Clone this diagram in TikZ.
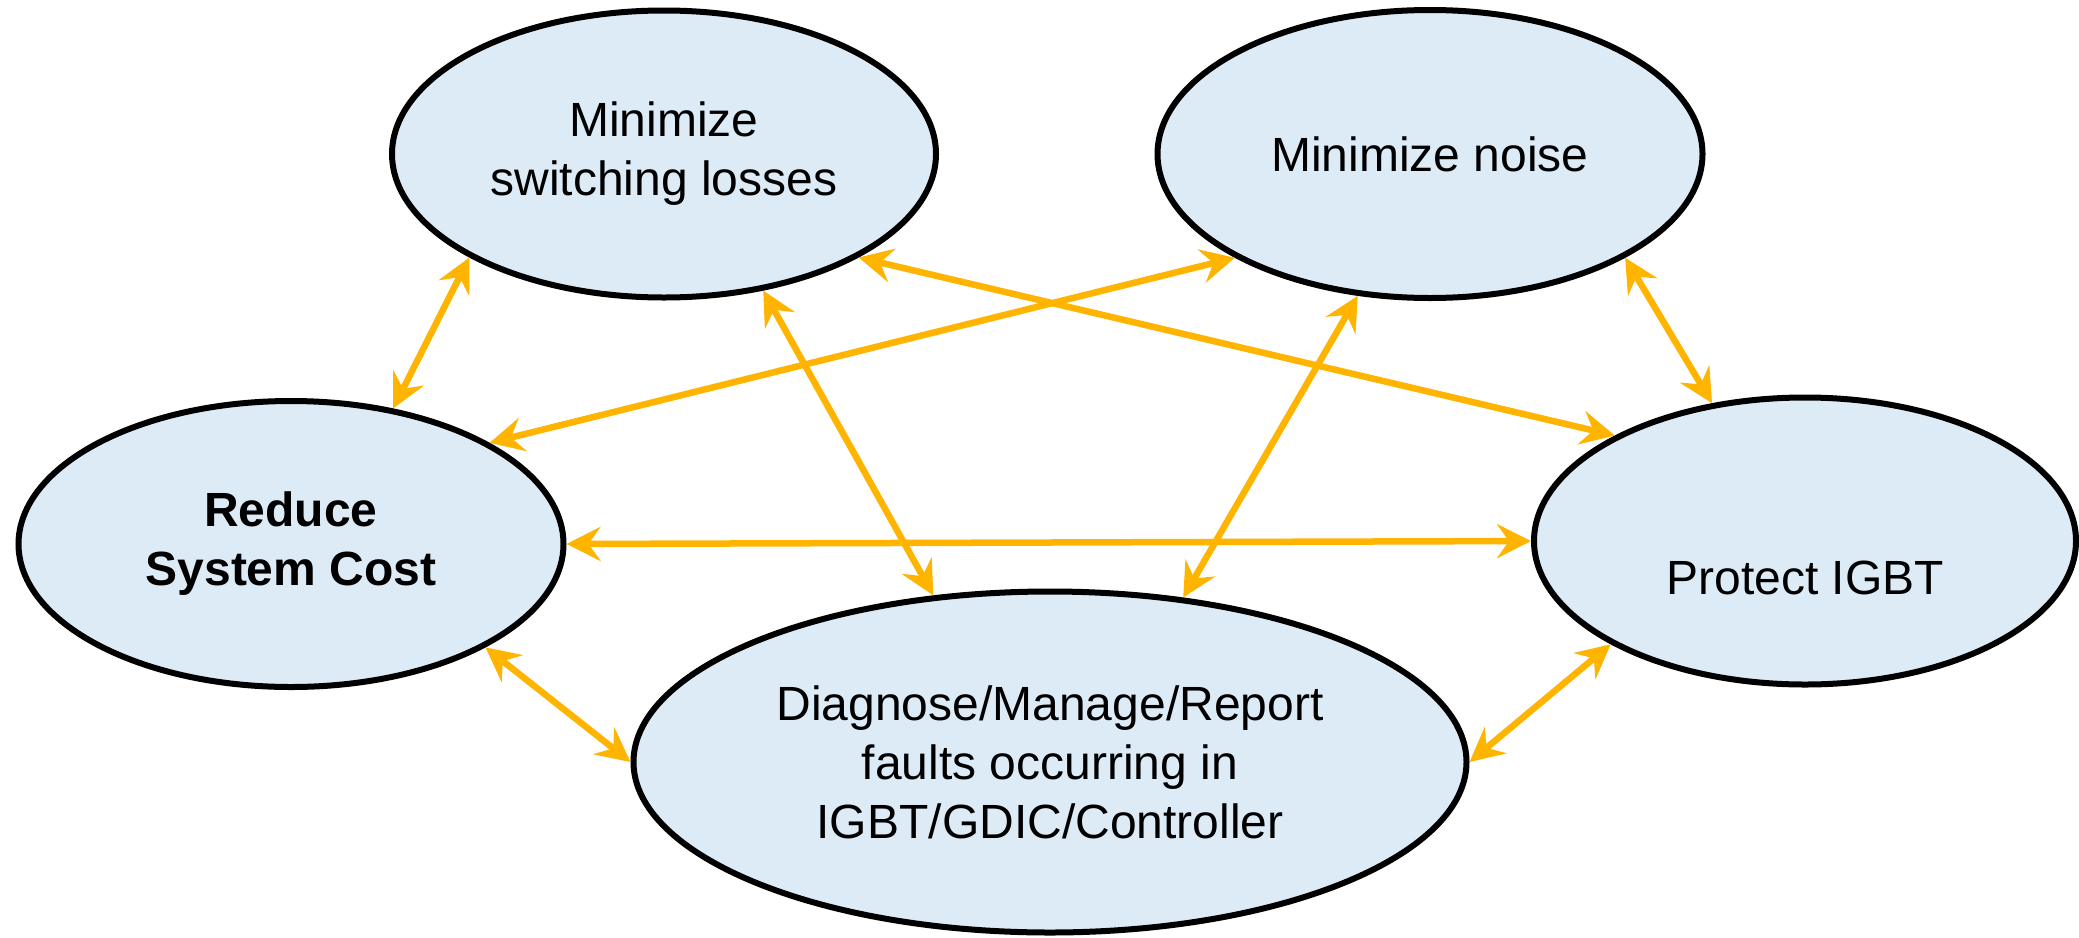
\documentclass[tikz,border=0pt]{standalone}
\usepackage{fontspec}
\setmainfont{Liberation Sans}
\usetikzlibrary{arrows.meta,shapes.geometric}
\definecolor{ellfill}{RGB}{221,235,246}
\definecolor{arr}{RGB}{255,180,0}
\begin{document}
\begin{tikzpicture}[x=1pt,y=-1pt,
  goal/.style={ellipse,draw=black,line width=6pt,fill=ellfill,inner sep=0pt,
    align=center,font=\fontsize{48}{59}\selectfont},
  link/.style={draw=arr,line width=6.5pt,
    {Stealth[length=34pt,width=34pt,inset=12pt]}-{Stealth[length=34pt,width=34pt,inset=12pt]}}]
\useasboundingbox (0,0) rectangle (2079,937);
\node[goal,minimum width=544pt,minimum height=287pt] (sw) at (664,154) {Minimize\\switching losses};
\node[goal,minimum width=545pt,minimum height=288pt] (noise) at (1430,154) {Minimize noise};
\node[goal,minimum width=545pt,minimum height=286pt] (cost) at (291,544) {\bfseries Reduce\\\bfseries System Cost};
\node[goal,minimum width=542pt,minimum height=287pt,
  label={[yshift=-37pt,font=\fontsize{48}{59}\selectfont]center:Protect IGBT}] (prot) at (1805,541) {};
\node[goal,minimum width=833pt,minimum height=341pt] (diag) at (1050,762) {Diagnose/Manage/Report\\faults occurring in\\IGBT/GDIC/Controller};
\draw[link] (sw.208.2) -- (cost.53.2);
\draw[link] (noise.208.6) -- (cost.27.7);
\draw[link] (sw.-28.3) -- (prot.151.7);
\draw[link] (noise.-28.3) -- (prot.124.7);
\draw[link] (sw.-54.2) -- (diag.125.1);
\draw[link] (noise.-117.2) -- (diag.51.9);
\draw[link] (cost.-28.1) -- (diag.180);
\draw[link] (prot.208.3) -- (diag.0);
\draw[link] (cost.0) -- (prot.180);
\end{tikzpicture}
\end{document}
